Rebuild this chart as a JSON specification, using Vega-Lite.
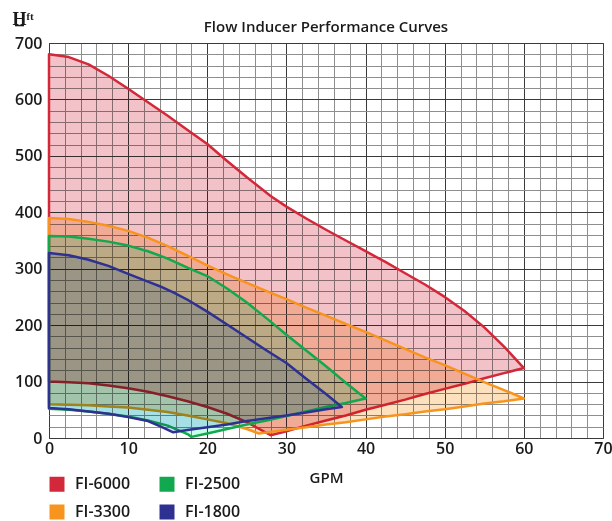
{
  "$schema": "https://vega.github.io/schema/vega-lite/v6.json",
  "width": 554,
  "height": 395,
  "autosize": {"type": "none"},
  "padding": {"left": 49, "top": 43, "right": 9, "bottom": 83},
  "background": "white",
  "title": {"text": "Flow Inducer Performance Curves", "fontSize": 15, "font": "Open Sans", "fontWeight": 600, "color": "#1a1a1a", "anchor": "middle", "baseline": "alphabetic", "offset": -37},
  "config": {"view": {"stroke": "#555555", "strokeWidth": 1}, "font": "Liberation Sans"},
  "data": {"values": [
    {"model": "FI-6000", "x": 0, "hi": 680, "lo": 100},
    {"model": "FI-6000", "x": 2.5, "hi": 675, "lo": 99},
    {"model": "FI-6000", "x": 5, "hi": 662, "lo": 97},
    {"model": "FI-6000", "x": 7.5, "hi": 642, "lo": 93},
    {"model": "FI-6000", "x": 10, "hi": 619, "lo": 88},
    {"model": "FI-6000", "x": 12.5, "hi": 595, "lo": 82},
    {"model": "FI-6000", "x": 15, "hi": 571, "lo": 74},
    {"model": "FI-6000", "x": 17.5, "hi": 546, "lo": 65},
    {"model": "FI-6000", "x": 20, "hi": 521, "lo": 55},
    {"model": "FI-6000", "x": 22.5, "hi": 491, "lo": 43},
    {"model": "FI-6000", "x": 25, "hi": 462, "lo": 28},
    {"model": "FI-6000", "x": 28, "hi": 429, "lo": 5},
    {"model": "FI-6000", "x": 30, "hi": 410, "lo": 12},
    {"model": "FI-6000", "x": 32.5, "hi": 389, "lo": 22},
    {"model": "FI-6000", "x": 35, "hi": 369, "lo": 31},
    {"model": "FI-6000", "x": 37.5, "hi": 350, "lo": 40},
    {"model": "FI-6000", "x": 40, "hi": 331, "lo": 50},
    {"model": "FI-6000", "x": 42.5, "hi": 312, "lo": 59},
    {"model": "FI-6000", "x": 45, "hi": 292, "lo": 68},
    {"model": "FI-6000", "x": 47.5, "hi": 272, "lo": 78},
    {"model": "FI-6000", "x": 50, "hi": 250, "lo": 87},
    {"model": "FI-6000", "x": 52.5, "hi": 225, "lo": 96},
    {"model": "FI-6000", "x": 55, "hi": 196, "lo": 106},
    {"model": "FI-6000", "x": 57.5, "hi": 162, "lo": 115},
    {"model": "FI-6000", "x": 60, "hi": 124, "lo": 124},
    {"model": "FI-3300", "x": 0, "hi": 390, "lo": 60},
    {"model": "FI-3300", "x": 2.5, "hi": 388, "lo": 59},
    {"model": "FI-3300", "x": 5, "hi": 383, "lo": 58},
    {"model": "FI-3300", "x": 7.5, "hi": 376, "lo": 56},
    {"model": "FI-3300", "x": 10, "hi": 367, "lo": 54},
    {"model": "FI-3300", "x": 12.5, "hi": 355, "lo": 50},
    {"model": "FI-3300", "x": 15, "hi": 340, "lo": 46},
    {"model": "FI-3300", "x": 17.5, "hi": 323, "lo": 40},
    {"model": "FI-3300", "x": 20, "hi": 306, "lo": 33},
    {"model": "FI-3300", "x": 22.5, "hi": 290, "lo": 26},
    {"model": "FI-3300", "x": 25, "hi": 275, "lo": 16},
    {"model": "FI-3300", "x": 26.5, "hi": 266, "lo": 8},
    {"model": "FI-3300", "x": 30, "hi": 246, "lo": 14.5},
    {"model": "FI-3300", "x": 32.5, "hi": 231, "lo": 19},
    {"model": "FI-3300", "x": 35, "hi": 217, "lo": 24},
    {"model": "FI-3300", "x": 37.5, "hi": 202, "lo": 28},
    {"model": "FI-3300", "x": 40, "hi": 188, "lo": 33},
    {"model": "FI-3300", "x": 42.5, "hi": 173, "lo": 38},
    {"model": "FI-3300", "x": 45, "hi": 158, "lo": 42},
    {"model": "FI-3300", "x": 47.5, "hi": 143, "lo": 47},
    {"model": "FI-3300", "x": 50, "hi": 129, "lo": 51},
    {"model": "FI-3300", "x": 52.5, "hi": 114, "lo": 56},
    {"model": "FI-3300", "x": 55, "hi": 99, "lo": 61},
    {"model": "FI-3300", "x": 57.5, "hi": 85, "lo": 65},
    {"model": "FI-3300", "x": 60, "hi": 70, "lo": 70},
    {"model": "FI-2500", "x": 0, "hi": 358, "lo": 52},
    {"model": "FI-2500", "x": 2.5, "hi": 357, "lo": 50},
    {"model": "FI-2500", "x": 5, "hi": 353, "lo": 47},
    {"model": "FI-2500", "x": 7.5, "hi": 348, "lo": 43},
    {"model": "FI-2500", "x": 10, "hi": 341, "lo": 38},
    {"model": "FI-2500", "x": 12.5, "hi": 331, "lo": 31},
    {"model": "FI-2500", "x": 15, "hi": 318, "lo": 22},
    {"model": "FI-2500", "x": 17.5, "hi": 302, "lo": 7},
    {"model": "FI-2500", "x": 18, "hi": 299, "lo": 2},
    {"model": "FI-2500", "x": 20, "hi": 287, "lo": 8},
    {"model": "FI-2500", "x": 22.5, "hi": 265, "lo": 16},
    {"model": "FI-2500", "x": 25, "hi": 240, "lo": 24},
    {"model": "FI-2500", "x": 27.5, "hi": 212, "lo": 31},
    {"model": "FI-2500", "x": 30, "hi": 183, "lo": 39},
    {"model": "FI-2500", "x": 32.5, "hi": 155, "lo": 47},
    {"model": "FI-2500", "x": 35, "hi": 127, "lo": 55},
    {"model": "FI-2500", "x": 37.5, "hi": 98, "lo": 62},
    {"model": "FI-2500", "x": 40, "hi": 70, "lo": 70},
    {"model": "FI-1800", "x": 0, "hi": 328, "lo": 53},
    {"model": "FI-1800", "x": 2.5, "hi": 324, "lo": 51},
    {"model": "FI-1800", "x": 5, "hi": 316, "lo": 47},
    {"model": "FI-1800", "x": 7.5, "hi": 305, "lo": 43},
    {"model": "FI-1800", "x": 10, "hi": 291, "lo": 37},
    {"model": "FI-1800", "x": 12.5, "hi": 277, "lo": 30},
    {"model": "FI-1800", "x": 14, "hi": 269, "lo": 21},
    {"model": "FI-1800", "x": 15.7, "hi": 258, "lo": 10},
    {"model": "FI-1800", "x": 17.5, "hi": 245, "lo": 14},
    {"model": "FI-1800", "x": 20, "hi": 224, "lo": 19},
    {"model": "FI-1800", "x": 22.5, "hi": 201, "lo": 24},
    {"model": "FI-1800", "x": 25, "hi": 178, "lo": 30},
    {"model": "FI-1800", "x": 27.5, "hi": 155, "lo": 35},
    {"model": "FI-1800", "x": 30, "hi": 133, "lo": 40},
    {"model": "FI-1800", "x": 32.5, "hi": 105, "lo": 45},
    {"model": "FI-1800", "x": 35, "hi": 78, "lo": 51},
    {"model": "FI-1800", "x": 37, "hi": 55, "lo": 55}
  ]},
  "encoding": {
    "x": {
      "field": "x", "type": "quantitative",
      "scale": {"domain": [0, 70], "nice": false, "zero": false},
      "axis": {
        "title": "GPM", "titleFont": "Open Sans", "titleFontWeight": 600, "titleFontSize": 15, "titleColor": "#1a1a1a", "titlePadding": 14,
        "values": [0,2,4,6,8,10,12,14,16,18,20,22,24,26,28,30,32,34,36,38,40,42,44,46,48,50,52,54,56,58,60,62,64,66,68,70],
        "labelExpr": "datum.value % 10 === 0 ? datum.label : ''",
        "labelFont": "Open Sans", "labelFontWeight": 600, "labelFontSize": 16, "labelColor": "#1a1a1a", "labelPadding": 2,
        "labelOverlap": false, "labelFlush": false, "labelBound": false,
        "ticks": false, "domain": false, "grid": true, "gridWidth": 1,
        "gridColor": {"condition": {"test": "datum.value % 10 === 0", "value": "#3a3a3a"}, "value": "#8e8e8e"}
      }
    },
    "y": {
      "field": "hi", "type": "quantitative",
      "scale": {"domain": [0, 700], "nice": false, "zero": false},
      "axis": {
        "title": "H̲ᶠᵗ", "titleFont": "Open Sans", "titleFontWeight": 600, "titleFontSize": 18, "titleColor": "#1a1a1a",
        "titleAngle": 0, "titleAlign": "left", "titleBaseline": "alphabetic", "titleX": -37, "titleY": -19,
        "values": [0,20,40,60,80,100,120,140,160,180,200,220,240,260,280,300,320,340,360,380,400,420,440,460,480,500,520,540,560,580,600,620,640,660,680,700],
        "labelExpr": "datum.value % 100 === 0 ? datum.label : ''",
        "labelFont": "Open Sans", "labelFontWeight": 600, "labelFontSize": 16, "labelColor": "#1a1a1a", "labelPadding": 7,
        "labelOverlap": false, "labelFlush": false, "labelBound": false,
        "ticks": false, "domain": false, "grid": true, "gridWidth": 1,
        "gridColor": {"condition": {"test": "datum.value % 100 === 0", "value": "#3a3a3a"}, "value": "#8e8e8e"}
      }
    },
    "y2": {"field": "lo"}
  },
  "layer": [
    {"transform": [{"filter": "datum.model === 'FI-6000'"}], "mark": {"type": "area", "blend": "multiply", "strokeWidth": 0, "interpolate": "linear"},
     "encoding": {"fill": {"field": "model", "type": "nominal", "sort": null, "scale": {"domain": ["FI-6000", "FI-3300", "FI-2500", "FI-1800"], "range": ["#f3c2c8", "#fde0be", "#c7ffe6", "#d2e0ff"]},
       "legend": {"title": null, "orient": "none", "legendX": 0, "legendY": 433, "columns": 2, "symbolType": "square", "symbolSize": 49, "symbolStrokeWidth": 8, "labelFont": "Open Sans", "labelFontWeight": 600, "labelFontSize": 16, "labelColor": "#1a1a1a", "labelOffset": 10, "columnPadding": 16, "rowPadding": -16, "padding": 0}}}},
    {"transform": [{"filter": "datum.model === 'FI-6000'"}], "mark": {"type": "area", "fill": "transparent", "strokeWidth": 2.5, "strokeJoin": "round", "interpolate": "linear"},
     "encoding": {"stroke": {"field": "model", "type": "nominal", "sort": null, "scale": {"domain": ["FI-6000", "FI-3300", "FI-2500", "FI-1800"], "range": ["#d2283a", "#f7941d", "#12a84f", "#2e3192"]},
       "legend": {"title": null, "orient": "none", "legendX": 0, "legendY": 433, "columns": 2, "symbolType": "square", "symbolSize": 49, "symbolStrokeWidth": 8, "labelFont": "Open Sans", "labelFontWeight": 600, "labelFontSize": 16, "labelColor": "#1a1a1a", "labelOffset": 10, "columnPadding": 16, "rowPadding": -16, "padding": 0}}}},
    {"transform": [{"filter": "datum.model === 'FI-3300'"}], "mark": {"type": "area", "blend": "multiply", "strokeWidth": 0, "interpolate": "linear"},
     "encoding": {"fill": {"field": "model", "type": "nominal", "sort": null, "scale": {"domain": ["FI-6000", "FI-3300", "FI-2500", "FI-1800"], "range": ["#f3c2c8", "#fde0be", "#c7ffe6", "#d2e0ff"]}}}},
    {"transform": [{"filter": "datum.model === 'FI-3300'"}], "mark": {"type": "area", "fill": "transparent", "strokeWidth": 2.5, "strokeJoin": "round", "interpolate": "linear"},
     "encoding": {"stroke": {"field": "model", "type": "nominal", "sort": null, "scale": {"domain": ["FI-6000", "FI-3300", "FI-2500", "FI-1800"], "range": ["#d2283a", "#f7941d", "#12a84f", "#2e3192"]}}}},
    {"transform": [{"filter": "datum.model === 'FI-2500'"}], "mark": {"type": "area", "blend": "multiply", "strokeWidth": 0, "interpolate": "linear"},
     "encoding": {"fill": {"field": "model", "type": "nominal", "sort": null, "scale": {"domain": ["FI-6000", "FI-3300", "FI-2500", "FI-1800"], "range": ["#f3c2c8", "#fde0be", "#c7ffe6", "#d2e0ff"]}}}},
    {"transform": [{"filter": "datum.model === 'FI-2500'"}], "mark": {"type": "area", "fill": "transparent", "strokeWidth": 2.5, "strokeJoin": "round", "interpolate": "linear"},
     "encoding": {"stroke": {"field": "model", "type": "nominal", "sort": null, "scale": {"domain": ["FI-6000", "FI-3300", "FI-2500", "FI-1800"], "range": ["#d2283a", "#f7941d", "#12a84f", "#2e3192"]}}}},
    {"transform": [{"filter": "datum.model === 'FI-1800'"}], "mark": {"type": "area", "blend": "multiply", "strokeWidth": 0, "interpolate": "linear"},
     "encoding": {"fill": {"field": "model", "type": "nominal", "sort": null, "scale": {"domain": ["FI-6000", "FI-3300", "FI-2500", "FI-1800"], "range": ["#f3c2c8", "#fde0be", "#c7ffe6", "#d2e0ff"]}}}},
    {"transform": [{"filter": "datum.model === 'FI-1800'"}], "mark": {"type": "area", "fill": "transparent", "strokeWidth": 2.5, "strokeJoin": "round", "interpolate": "linear"},
     "encoding": {"stroke": {"field": "model", "type": "nominal", "sort": null, "scale": {"domain": ["FI-6000", "FI-3300", "FI-2500", "FI-1800"], "range": ["#d2283a", "#f7941d", "#12a84f", "#2e3192"]}}}}
  ]
}
